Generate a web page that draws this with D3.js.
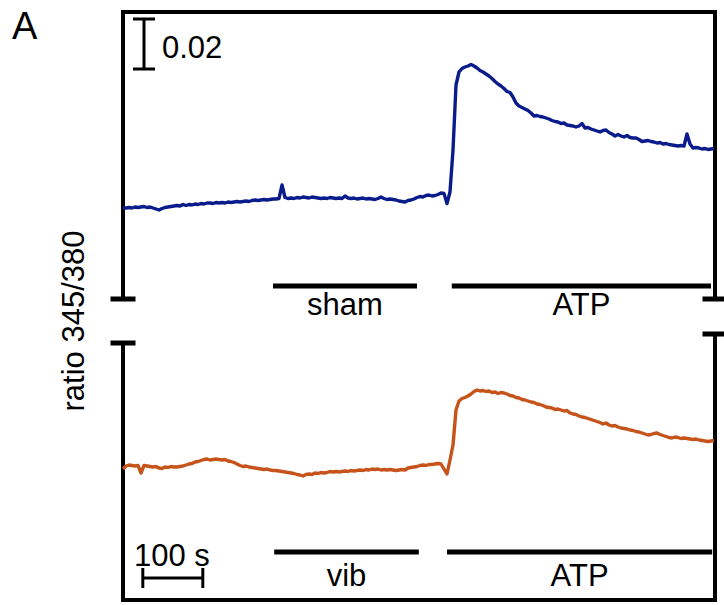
<!DOCTYPE html>
<html>
<head>
<meta charset="utf-8">
<script src="https://cdn.jsdelivr.net/npm/d3@7"></script>
<style>
  html, body { margin: 0; padding: 0; background: #fff; }
  svg { display: block; font-family: "Liberation Sans", Arial, Helvetica, sans-serif; }
</style>
</head>
<body>
<svg id="chart" width="724" height="605"></svg>
<script>
// Fura-2 ratio (345/380) recordings, one sample every 5 s
const sampleStep = 5;

// control cell: sham stimulation, then ATP
const shamTrace = [
  0.5756, 0.5756, 0.5758, 0.5756, 0.5760, 0.5758, 0.5760, 0.5762, 0.5758, 0.5760,
  0.5756, 0.5752, 0.5748, 0.5754, 0.5758, 0.5760, 0.5762, 0.5764, 0.5766, 0.5764,
  0.5770, 0.5766, 0.5770, 0.5768, 0.5772, 0.5770, 0.5774, 0.5772, 0.5776, 0.5776,
  0.5774, 0.5778, 0.5776, 0.5778, 0.5776, 0.5780, 0.5778, 0.5780, 0.5782, 0.5780,
  0.5782, 0.5784, 0.5782, 0.5786, 0.5788, 0.5786, 0.5788, 0.5790, 0.5788, 0.5790,
  0.5792, 0.5792, 0.5794, 0.5848, 0.5798, 0.5794, 0.5796, 0.5794, 0.5798, 0.5796,
  0.5800, 0.5798, 0.5796, 0.5800, 0.5798, 0.5796, 0.5794, 0.5796, 0.5794, 0.5798,
  0.5796, 0.5794, 0.5796, 0.5794, 0.5804, 0.5796, 0.5794, 0.5796, 0.5792, 0.5794,
  0.5796, 0.5792, 0.5794, 0.5792, 0.5790, 0.5794, 0.5800, 0.5794, 0.5790, 0.5792,
  0.5790, 0.5788, 0.5784, 0.5782, 0.5780, 0.5786, 0.5788, 0.5792, 0.5798, 0.5802,
  0.5800, 0.5806, 0.5808, 0.5804, 0.5806, 0.5810, 0.5816, 0.5814, 0.5774, 0.5820,
  0.5988, 0.6248, 0.6300, 0.6314, 0.6320, 0.6324, 0.6330, 0.6324, 0.6316, 0.6306,
  0.6300, 0.6292, 0.6284, 0.6274, 0.6262, 0.6252, 0.6244, 0.6234, 0.6222, 0.6218,
  0.6200, 0.6176, 0.6164, 0.6158, 0.6152, 0.6146, 0.6136, 0.6124, 0.6126, 0.6122,
  0.6120, 0.6116, 0.6112, 0.6106, 0.6102, 0.6100, 0.6094, 0.6096, 0.6088, 0.6086,
  0.6084, 0.6080, 0.6084, 0.6094, 0.6076, 0.6078, 0.6072, 0.6068, 0.6064, 0.6060,
  0.6066, 0.6068, 0.6058, 0.6052, 0.6044, 0.6050, 0.6044, 0.6040, 0.6046, 0.6038,
  0.6036, 0.6036, 0.6030, 0.6022, 0.6024, 0.6026, 0.6022, 0.6020, 0.6016, 0.6018,
  0.6012, 0.6014, 0.6010, 0.6008, 0.6006, 0.6004, 0.6006, 0.6004, 0.6052, 0.6012,
  0.5996, 0.5998, 0.5996, 0.5992, 0.5994, 0.5990, 0.5992, 0.5994
];

// vibrated cell: vibration, then ATP
const vibTrace = [
  0.5724, 0.5736, 0.5740, 0.5738, 0.5736, 0.5738, 0.5708, 0.5738, 0.5736, 0.5734,
  0.5732, 0.5734, 0.5728, 0.5726, 0.5732, 0.5730, 0.5734, 0.5732, 0.5732, 0.5734,
  0.5736, 0.5740, 0.5744, 0.5746, 0.5752, 0.5754, 0.5758, 0.5762, 0.5764, 0.5760,
  0.5762, 0.5764, 0.5762, 0.5760, 0.5762, 0.5756, 0.5754, 0.5750, 0.5744, 0.5738,
  0.5734, 0.5736, 0.5732, 0.5730, 0.5728, 0.5726, 0.5724, 0.5722, 0.5724, 0.5720,
  0.5718, 0.5718, 0.5716, 0.5714, 0.5712, 0.5710, 0.5708, 0.5706, 0.5702, 0.5700,
  0.5696, 0.5702, 0.5704, 0.5702, 0.5708, 0.5706, 0.5710, 0.5708, 0.5710, 0.5714,
  0.5712, 0.5714, 0.5712, 0.5714, 0.5716, 0.5714, 0.5718, 0.5716, 0.5718, 0.5720,
  0.5718, 0.5722, 0.5720, 0.5724, 0.5722, 0.5724, 0.5720, 0.5722, 0.5720, 0.5722,
  0.5720, 0.5718, 0.5720, 0.5722, 0.5720, 0.5728, 0.5730, 0.5732, 0.5734, 0.5738,
  0.5740, 0.5738, 0.5742, 0.5742, 0.5744, 0.5746, 0.5744, 0.5724, 0.5704, 0.5760,
  0.5820, 0.5960, 0.5996, 0.6006, 0.6010, 0.6016, 0.6024, 0.6034, 0.6040, 0.6036,
  0.6038, 0.6034, 0.6036, 0.6030, 0.6032, 0.6026, 0.6030, 0.6028, 0.6024, 0.6018,
  0.6016, 0.6010, 0.6008, 0.6002, 0.6000, 0.5996, 0.5992, 0.5990, 0.5984, 0.5982,
  0.5978, 0.5972, 0.5970, 0.5968, 0.5962, 0.5964, 0.5960, 0.5956, 0.5958, 0.5948,
  0.5944, 0.5942, 0.5936, 0.5932, 0.5930, 0.5926, 0.5922, 0.5918, 0.5914, 0.5910,
  0.5904, 0.5908, 0.5900, 0.5896, 0.5898, 0.5892, 0.5888, 0.5886, 0.5884, 0.5880,
  0.5878, 0.5874, 0.5872, 0.5868, 0.5864, 0.5860, 0.5862, 0.5866, 0.5868, 0.5862,
  0.5858, 0.5854, 0.5850, 0.5848, 0.5852, 0.5850, 0.5846, 0.5848, 0.5846, 0.5844,
  0.5842, 0.5844, 0.5840, 0.5838, 0.5836, 0.5834, 0.5836, 0.5838
];

// stimulus periods (s)
const topStimuli = [
  { label: "sham", start: 250, end: 490 },
  { label: "ATP",  start: 548, end: 980 }
];
const bottomStimuli = [
  { label: "vib", start: 252, end: 493 },
  { label: "ATP", start: 540, end: 982 }
];

const timeDomain = [0, 990];
const topRatioDomain = [0.54, 0.654];
const bottomRatioDomain = [0.52, 0.6228];
const ratioScaleBar = 0.02;   // ratio units
const timeScaleBar = 100;     // seconds

const svg = d3.select("#chart");
const ink = "#000";
const labelSize = 31;

const x = d3.scaleLinear().domain(timeDomain).range([123, 717]);
const yTop = d3.scaleLinear().domain(topRatioDomain).range([297, 12]);
const yBottom = d3.scaleLinear().domain(bottomRatioDomain).range([600, 343]);

// frame with broken left/right axes
const frame = svg.append("g").attr("stroke", ink).attr("fill", "none").attr("stroke-width", 4);
frame.append("path").attr("d", "M123,299 V12 H715 V299");
frame.append("path").attr("d", "M123,343 V600 H715 V334");
const caps = svg.append("g").attr("fill", ink);
[[123, 299], [715, 299], [123, 343], [715, 334]].forEach(([cx, cy]) => {
  caps.append("rect").attr("x", cx - 12.5).attr("y", cy - 2.5).attr("width", 25).attr("height", 5);
});

// traces
function drawTrace(values, yScale, color) {
  const line = d3.line()
    .x((d, i) => x(i * sampleStep))
    .y(d => yScale(d));
  svg.append("path")
    .datum(values)
    .attr("fill", "none")
    .attr("stroke", color)
    .attr("stroke-width", 3.4)
    .attr("stroke-linejoin", "round")
    .attr("d", line);
}
drawTrace(shamTrace, yTop, "#0a1c8c");
drawTrace(vibTrace, yBottom, "#c6531a");

// stimulus bars
function drawStimuli(stimuli, barY, textY) {
  const g = svg.append("g");
  stimuli.forEach(s => {
    g.append("rect")
      .attr("x", x(s.start)).attr("y", barY - 2.5)
      .attr("width", x(s.end) - x(s.start)).attr("height", 5)
      .attr("fill", ink);
    g.append("text")
      .attr("x", (x(s.start) + x(s.end)) / 2).attr("y", textY)
      .attr("text-anchor", "middle")
      .attr("font-size", labelSize)
      .text(s.label);
  });
}
drawStimuli(topStimuli, 286, 315);
drawStimuli(bottomStimuli, 552, 586);

// ratio scale bar
const sbTop = 0.6312;
const sb = svg.append("g").attr("stroke", ink).attr("stroke-width", 3);
const sx = 144;
sb.append("line").attr("x1", sx).attr("x2", sx).attr("y1", yTop(sbTop)).attr("y2", yTop(sbTop + ratioScaleBar));
sb.append("line").attr("x1", sx - 11).attr("x2", sx + 11).attr("y1", yTop(sbTop)).attr("y2", yTop(sbTop));
sb.append("line").attr("x1", sx - 11).attr("x2", sx + 11).attr("y1", yTop(sbTop + ratioScaleBar)).attr("y2", yTop(sbTop + ratioScaleBar));
svg.append("text").attr("x", 162).attr("y", 58).attr("font-size", labelSize).text("0.02");

// time scale bar
const tb = svg.append("g").attr("stroke", ink).attr("stroke-width", 3);
const t0 = 33, ty = 578;
tb.append("line").attr("x1", x(t0)).attr("x2", x(t0 + timeScaleBar)).attr("y1", ty).attr("y2", ty);
tb.append("line").attr("x1", x(t0)).attr("x2", x(t0)).attr("y1", ty - 10).attr("y2", ty + 10);
tb.append("line").attr("x1", x(t0 + timeScaleBar)).attr("x2", x(t0 + timeScaleBar)).attr("y1", ty - 10).attr("y2", ty + 10);
svg.append("text").attr("x", 134).attr("y", 566).attr("font-size", labelSize).text("100 s");

// axis title and panel letter
svg.append("text")
  .attr("transform", "translate(84,321) rotate(-90)")
  .attr("text-anchor", "middle")
  .attr("font-size", labelSize)
  .text("ratio 345/380");
svg.append("text").attr("x", 12).attr("y", 39).attr("font-size", 38).text("A");
</script>
</body>
</html>
